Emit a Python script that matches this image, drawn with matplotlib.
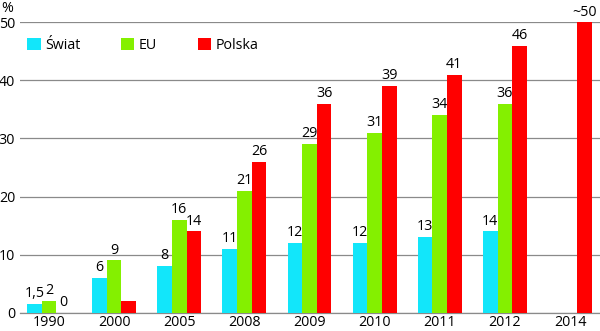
import matplotlib
matplotlib.use('Agg')
import matplotlib.pyplot as plt
import numpy as np

plt.rcParams['font.family'] = ['Open Sans', 'DejaVu Sans']

# data
years   = ['1990', '2000', '2005', '2008', '2009', '2010', '2011', '2012', '2014']
swiat   = [1.5, 6, 8, 11, 12, 12, 13, 14, None]
eu      = [2, 9, 16, 21, 29, 31, 34, 36, None]
polska  = [0, 2, 14, 26, 36, 39, 41, 46, 50]

swiat_lbl  = ['1,5', '6', '8', '11', '12', '12', '13', '14', '']
eu_lbl     = ['2', '9', '16', '21', '29', '31', '34', '36', '']
polska_lbl = ['0', '', '14', '26', '36', '39', '41', '46', '~50']

series = [('Świat', swiat, swiat_lbl, '#12E6FA'),
          ('EU', eu, eu_lbl, '#84F000'),
          ('Polska', polska, polska_lbl, '#FF0000')]

W, H = 600, 331
fig = plt.figure(figsize=(W / 100, H / 100), dpi=100)
ax = fig.add_axes([20 / W, 18.3 / H, 580 / W, 290.4 / H])

x = np.arange(len(years))
bw = 0.224

for k, (name, vals, lbls, col) in enumerate(series):
    xs = x + (k - 1) * bw
    hs = [np.nan if v is None else v for v in vals]
    ax.bar(xs, hs, width=bw, color=col, label=name, zorder=3)
    for xi, v, t in zip(xs, hs, lbls):
        if t:
            ax.annotate(t, (xi, v), xytext=(0, 2), textcoords='offset points',
                        ha='center', va='bottom', fontsize=10.3, clip_on=False)

ax.set_xlim(-0.445, 8.46)
ax.set_ylim(0, 50)
ax.set_yticks([0, 10, 20, 30, 40, 50])
ax.set_xticks(x)
ax.set_xticklabels(years)
for s in ['top', 'right', 'left']:
    ax.spines[s].set_visible(False)
ax.spines['bottom'].set_color('#8a8a8a')
ax.spines['bottom'].set_linewidth(0.9)
ax.yaxis.grid(True, color='#8a8a8a', linewidth=0.9, zorder=0)
ax.tick_params(axis='both', length=0, labelsize=10.3)
ax.tick_params(axis='x', pad=1.5)
ax.tick_params(axis='y', pad=3.5)
ax.set_axisbelow(True)

fig.text(1 / W, 1 - 8 / H, '%', fontsize=10.3, ha='left', va='center')

ax.legend(loc='center left', bbox_to_anchor=(27 / W, 1 - 45.5 / H),
          bbox_transform=fig.transFigure, ncol=3, frameon=False,
          borderpad=0, borderaxespad=0, handlelength=0.95, handleheight=0.95,
          handletextpad=0.3, columnspacing=2.85, fontsize=10.3)

fig.savefig('out.png', dpi=100)
